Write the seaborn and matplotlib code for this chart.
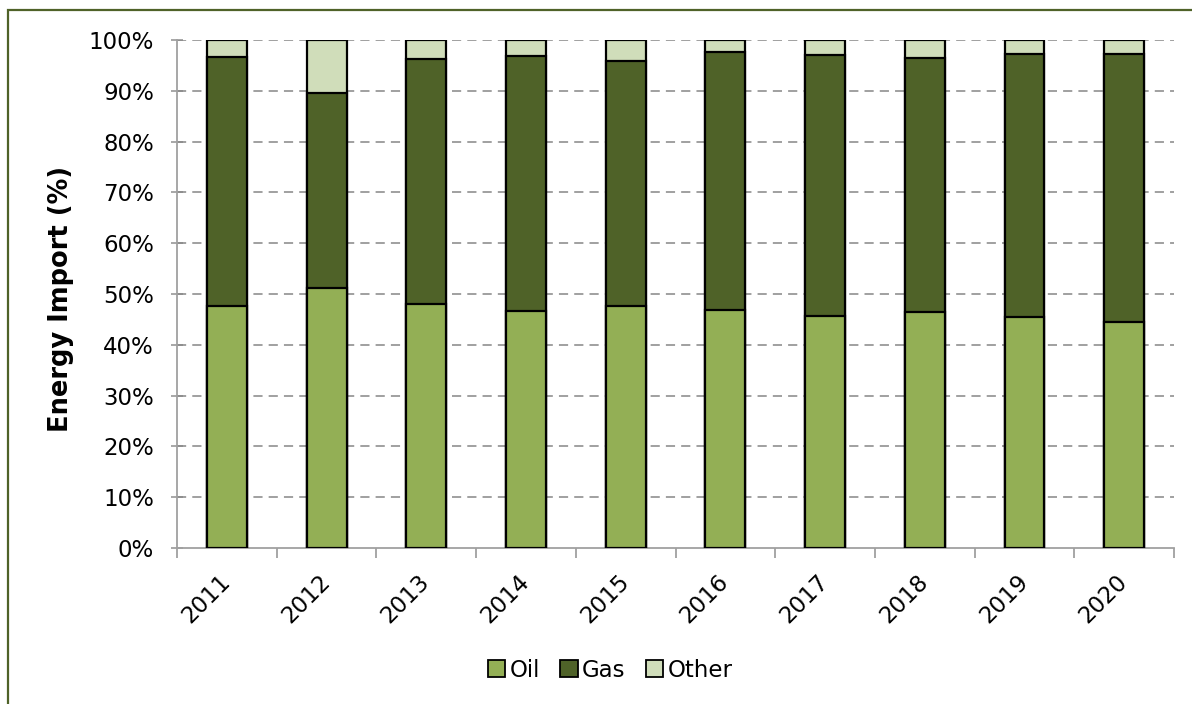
import matplotlib
matplotlib.use("Agg")
import matplotlib.pyplot as plt
from matplotlib.patches import Patch, Rectangle
from matplotlib.ticker import FixedLocator, PercentFormatter
import seaborn as sns
import pandas as pd

years = ["2011", "2012", "2013", "2014", "2015", "2016", "2017", "2018", "2019", "2020"]
oil = [47.6, 51.2, 48.0, 46.7, 47.7, 46.9, 45.6, 46.4, 45.4, 44.5]
gas = [49.0, 38.4, 48.3, 50.2, 48.2, 50.7, 51.5, 50.1, 51.9, 52.8]
other = [3.4, 10.4, 3.7, 3.1, 4.1, 2.4, 2.9, 3.5, 2.7, 2.7]

series = ["Oil", "Gas", "Other"]
colors = {"Oil": "#93AF55", "Gas": "#4F6228", "Other": "#D0DDBA"}

df = pd.DataFrame({"year": years, "Oil": oil, "Gas": gas, "Other": other})
# cumulative tops for the stacked segments
df["top_oil"] = df["Oil"]
df["top_gas"] = df["Oil"] + df["Gas"]
df["top_other"] = df["top_gas"] + df["Other"]

sns.set_theme(style="white")
plt.rcParams["font.family"] = ["DejaVu Sans"]
plt.rcParams["text.color"] = "black"
plt.rcParams["axes.labelcolor"] = "black"
plt.rcParams["xtick.labelcolor"] = "black"
plt.rcParams["ytick.labelcolor"] = "black"

fig = plt.figure(figsize=(11.92, 7.04), dpi=100)
ax = fig.add_axes([0.1485, 0.2216, 0.8365, 0.7216])

# draw from the tallest stack downwards so each segment overlays the next
for col, name in [("top_other", "Other"), ("top_gas", "Gas"), ("top_oil", "Oil")]:
    sns.barplot(data=df, x="year", y=col, order=years, color=colors[name],
                width=0.4, edgecolor="black", linewidth=1.6, saturation=1,
                ax=ax, zorder=3)

ax.set_xlim(-0.5, len(years) - 0.5)
ax.set_ylim(0, 100)
ax.yaxis.set_major_locator(FixedLocator(range(0, 101, 10)))
ax.yaxis.set_major_formatter(PercentFormatter(decimals=0))

grid_color = "#868686"
for v in range(10, 101, 10):
    ax.axhline(v, color=grid_color, lw=1.1, ls=(0, (6, 4)), zorder=1)

for s in ["top", "right"]:
    ax.spines[s].set_visible(False)
for s in ["left", "bottom"]:
    ax.spines[s].set_color("#A0A0A0")
    ax.spines[s].set_linewidth(1.3)

ax.tick_params(axis="y", which="major", direction="inout", length=9, width=1.3,
               color="#A0A0A0", labelsize=16.5, pad=12, left=True)
ax.xaxis.set_minor_locator(FixedLocator([i - 0.5 for i in range(len(years) + 1)]))
ax.tick_params(axis="x", which="minor", direction="out", length=7, width=1.3,
               color="#A0A0A0", bottom=True)
ax.tick_params(axis="x", which="major", length=0, labelsize=16.5, pad=22)
for lbl in ax.get_xticklabels():
    lbl.set_rotation(45)
    lbl.set_ha("right")
    lbl.set_va("center")
    lbl.set_rotation_mode("anchor")

ax.set_xlabel("")
ax.set_ylabel("Energy Import (%)", fontsize=18.5, fontweight="bold")
ax.yaxis.set_label_coords(-0.103, 0.49)

handles = [Patch(facecolor=colors[n], edgecolor="black", linewidth=1.3, label=n)
           for n in series]
fig.legend(handles=handles, loc="center", bbox_to_anchor=(0.512, 0.048), ncol=3,
           frameon=False, fontsize=16.5, handlelength=0.75, handleheight=0.75,
           handletextpad=0.2, columnspacing=0.9)

# outer frame of the chart area
fig.patches.append(Rectangle((8 / 1192, -0.1), 1.2, 0.1 + (1 - 10 / 704),
                             transform=fig.transFigure, fill=False,
                             edgecolor="#4F6228", linewidth=1.6, zorder=0))

fig.savefig("out.png", dpi=100)
